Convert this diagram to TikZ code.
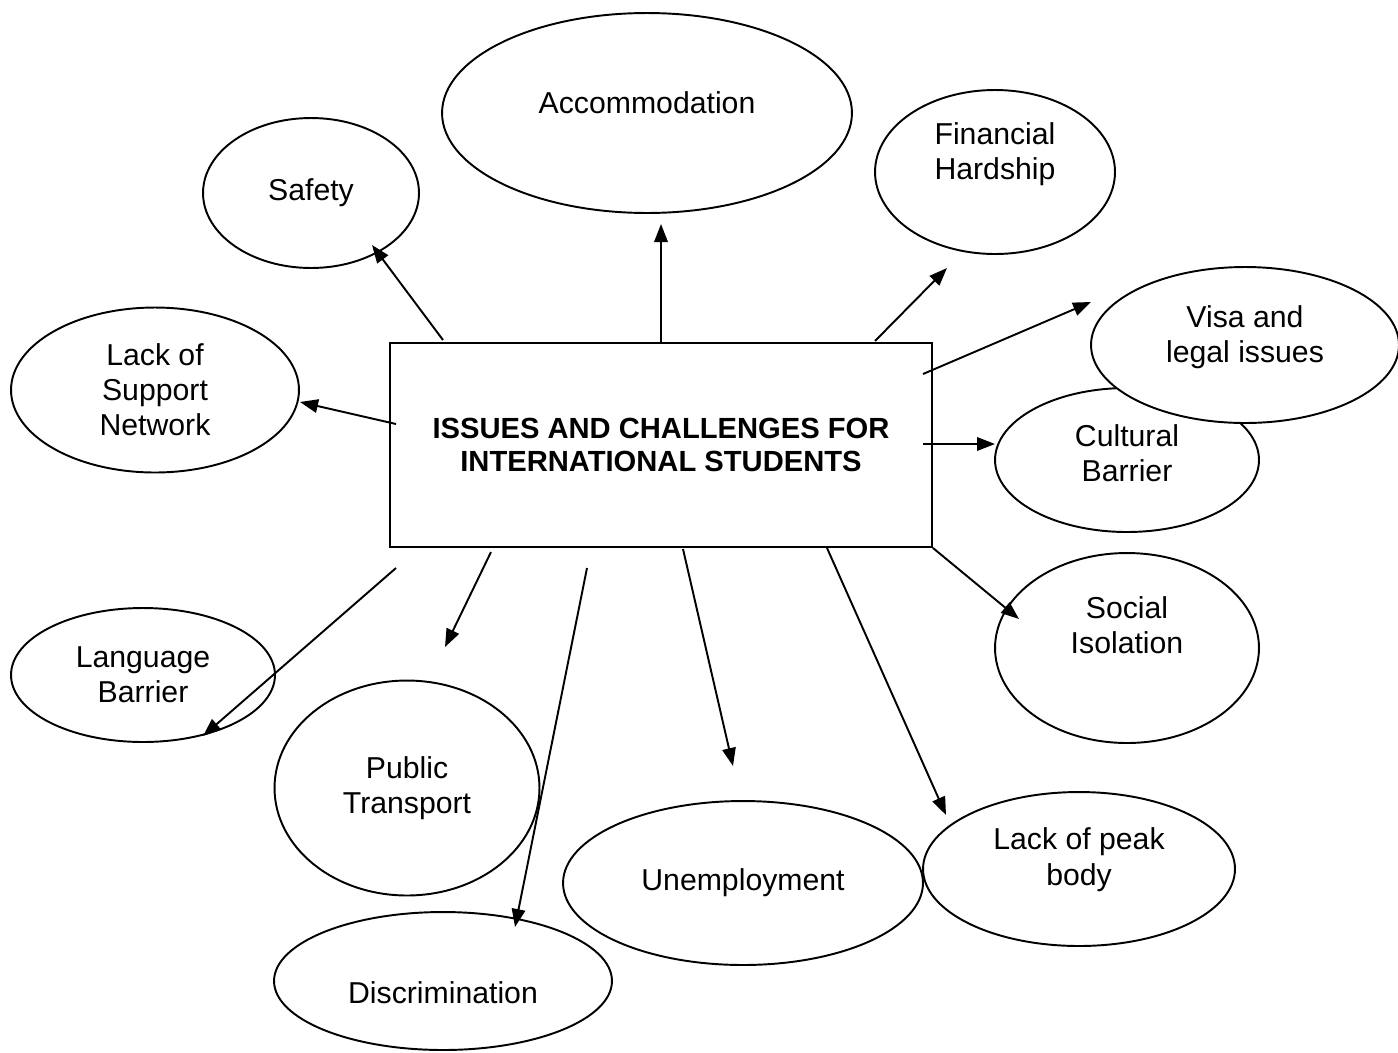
\documentclass[tikz,border=0pt]{standalone}
\usepackage{fontspec}
\setmainfont{Liberation Sans}
\usetikzlibrary{shapes.geometric, arrows.meta}

\begin{document}
\begin{tikzpicture}[
        x=0.02cm, y=-0.02cm,
        line width=1.1pt,
        >={Triangle[length=0.36cm, width=0.27cm]},
        bubble/.style={draw=black, ellipse, inner sep=0pt, align=center,
            font=\fontsize{17.2}{20}\selectfont},
        titlebox/.style={draw=black, rectangle, align=center,
            minimum width=10.84cm, minimum height=4.08cm,
            font=\fontsize{16.6}{19}\selectfont\bfseries}]

        \useasboundingbox (0,0) rectangle (1398,1052);

        % NODES
        % centre
        \node[titlebox] (issues) at (661,445) {ISSUES AND CHALLENGES FOR\\INTERNATIONAL STUDENTS};

        % upper half
        \node[bubble, minimum width=8.2cm, minimum height=4cm, text depth=0.4cm] (accom) at (647,113) {Accommodation};
        \node[bubble, minimum width=4.32cm, minimum height=3cm] (safety) at (311,193) {Safety};
        \node[bubble, minimum width=4.8cm, minimum height=3.28cm, text depth=0.85cm] (finance) at (995,172) {Financial\\Hardship};
        \node[bubble, minimum width=5.76cm, minimum height=3.3cm] (support) at (155,390) {Lack of\\Support\\Network};
        \node[bubble, minimum width=5.28cm, minimum height=2.88cm, text depth=0.28cm] (culture) at (1127,460) {Cultural\\Barrier};
        \node[bubble, fill=white, minimum width=6.16cm, minimum height=3.12cm, text depth=0.45cm] (visa) at (1245,345) {Visa and\\legal issues};

        % lower half
        \node[bubble, minimum width=5.28cm, minimum height=3.8cm, text depth=0.92cm] (social) at (1127,648) {Social\\Isolation};
        \node[bubble, minimum width=5.28cm, minimum height=2.68cm] (language) at (143,675) {Language\\Barrier};
        \node[bubble, minimum width=5.3cm, minimum height=4.3cm] (transport) at (407,788) {Public\\Transport};
        \node[bubble, minimum width=7.2cm, minimum height=3.28cm] (unemploy) at (743,883) {Unemployment};
        \node[bubble, minimum width=6.24cm, minimum height=3.08cm, text depth=0.5cm] (peak) at (1079,869) {Lack of peak\\body};
        \node[bubble, minimum width=6.76cm, minimum height=2.76cm, text height=0.91cm] (discrim) at (443,981) {Discrimination};

        % arrow ends
        \coordinate (safety_s) at (443,340);
        \coordinate (safety_e) at (372,245);
        \coordinate (accom_e) at (661,224);
        \coordinate (finance_s) at (875,341);
        \coordinate (finance_e) at (947,268);
        \coordinate (visa_s) at (923,374);
        \coordinate (visa_e) at (1091,302);
        \coordinate (culture_s) at (923,444);
        \coordinate (culture_e) at (995,444);
        \coordinate (social_e) at (1019,619);
        \coordinate (peak_s) at (827,548);
        \coordinate (peak_e) at (946,815);
        \coordinate (unemploy_s) at (683,549);
        \coordinate (unemploy_e) at (733,766);
        \coordinate (discrim_s) at (587,568);
        \coordinate (discrim_e) at (515,927);
        \coordinate (transport_s) at (491,552);
        \coordinate (transport_e) at (445,647);
        \coordinate (language_s) at (396,568);
        \coordinate (language_e) at (203,736);
        \coordinate (support_s) at (396,424);
        \coordinate (support_e) at (300,402);

        % ARROWS
        \draw[->] (safety_s)--(safety_e);
        \draw[->] (issues.north)--(accom_e);
        \draw[->] (finance_s)--(finance_e);
        \draw[->] (visa_s)--(visa_e);
        \draw[->] (culture_s)--(culture_e);
        \draw[->] (issues.south east)--(social_e);
        \draw[->] (peak_s)--(peak_e);
        \draw[->] (unemploy_s)--(unemploy_e);
        \draw[->] (discrim_s)--(discrim_e);
        \draw[->] (transport_s)--(transport_e);
        \draw[->] (language_s)--(language_e);
        \draw[->] (support_s)--(support_e);
\end{tikzpicture}
\end{document}
